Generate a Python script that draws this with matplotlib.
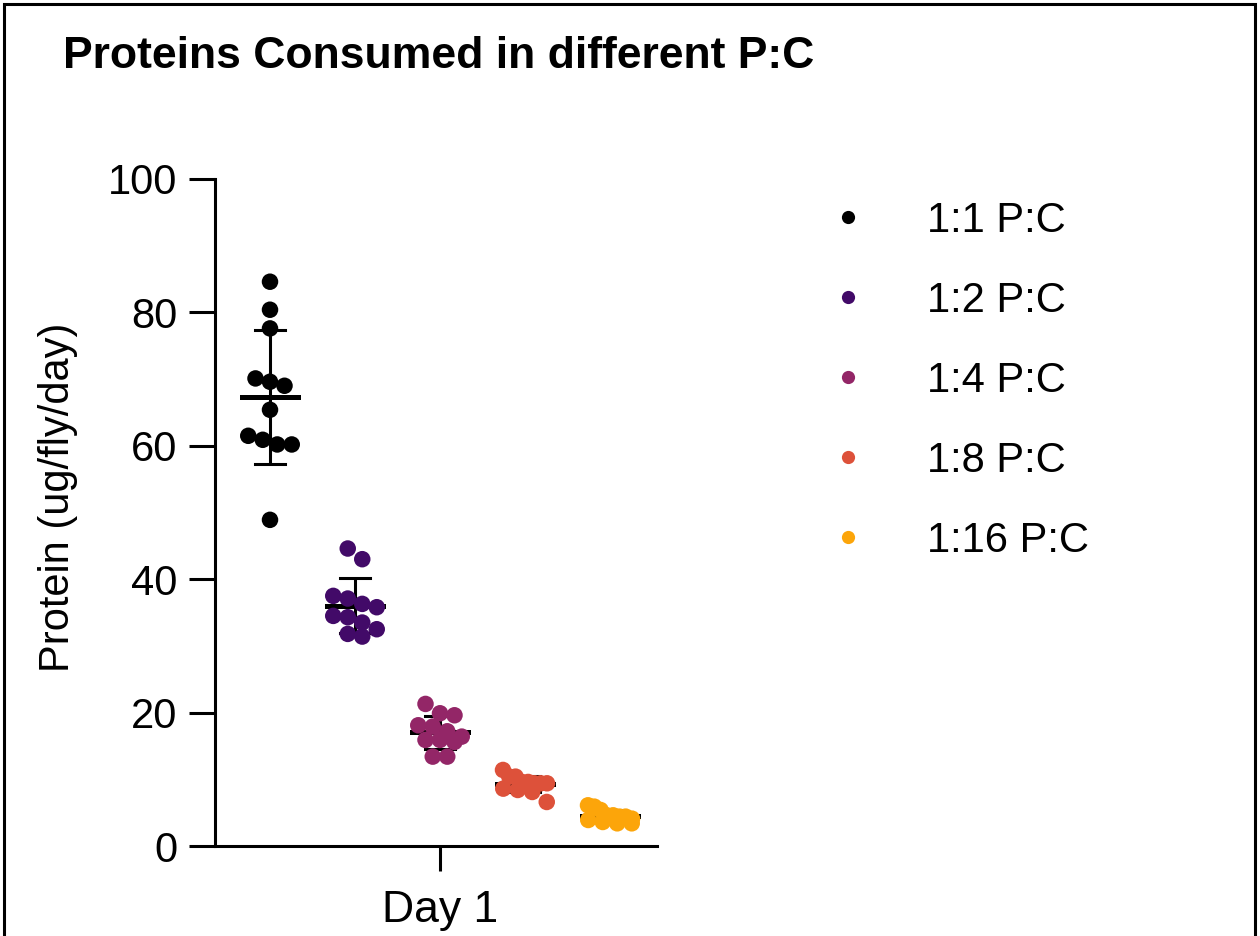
import numpy as np
import matplotlib
matplotlib.use('Agg')
import matplotlib.pyplot as plt
from matplotlib.lines import Line2D
from matplotlib.patches import Rectangle

plt.rcParams['font.family'] = ['Liberation Sans', 'DejaVu Sans']

# ---------------- data ----------------
title = 'Proteins Consumed in different P:C'
ylabel = 'Protein (ug/fly/day)'
xtick_label = 'Day 1'
groups = ['1:1 P:C', '1:2 P:C', '1:4 P:C', '1:8 P:C', '1:16 P:C']
colors = ['#000000', '#420a68', '#932667', '#dd513a', '#fca50a']

vals_1_1 = [84.6, 80.4, 77.6, 69.0, 69.6, 70.1, 65.4, 61.5, 60.2, 60.2, 60.9, 48.9]
vals_1_2 = [43.0, 44.6, 35.8, 36.3, 37.5, 37.1, 34.3, 34.5, 33.5, 31.4, 31.8, 32.5]
vals_1_4 = [21.3, 19.6, 19.9, 17.2, 18.1, 17.9, 15.9, 15.6, 16.4, 15.9, 13.4, 13.4]
vals_1_8 = [11.4, 9.4, 9.6, 8.6, 10.4, 10.4, 9.6, 9.4, 8.4, 8.1, 6.6, 9.4]
vals_1_16 = [4.6, 5.9, 6.1, 3.6, 3.4, 4.4, 3.9, 5.4, 4.6, 4.1, 3.4, 4.4]
all_vals = [vals_1_1, vals_1_2, vals_1_4, vals_1_8, vals_1_16]

# ---------------- figure ----------------
W, H = 1260, 936
fig = plt.figure(figsize=(W / 100, H / 100), dpi=100)
ax_left, ax_right, ax_top, ax_bot = 215, 657, 179, 846
ax = fig.add_axes([ax_left / W, 1 - ax_bot / H, (ax_right - ax_left) / W, (ax_bot - ax_top) / H])

positions = np.arange(1, len(groups) + 1)
center = positions[len(positions) // 2]
px_per_unit = 85.0
ax.set_xlim(center - (440 - ax_left) / px_per_unit, center + (ax_right - 440) / px_per_unit)
ax.set_ylim(0, 100)

fig.canvas.draw()
d = 14.5      # point spacing in pixels
maxw = 22.0   # max half-width of a row (pixel, point centres)


def row_offsets(values):
    """Prism-like scatter: points of similar value share a centred row."""
    values = np.asarray(values)
    ys = ax.transData.transform(np.column_stack([np.zeros(len(values)), values]))[:, 1]
    order = np.argsort(-values, kind='stable')
    rows, cur = [], []
    for i in order:
        if cur and ys[cur[0]] - ys[i] >= d:
            rows.append(cur)
            cur = []
        cur.append(i)
    if cur:
        rows.append(cur)
    offs = np.zeros(len(values))
    for r in rows:
        n = len(r)
        sp = d if n == 1 else min(d, 2 * maxw / (n - 1))
        for k, i in enumerate(r):
            offs[i] = (k - (n - 1) / 2) * sp
    return offs / px_per_unit


cap_half = 15 / px_per_unit
mean_half = 28 / px_per_unit
dot_px = 16.5
for pos, vals, col in zip(positions, all_vals, colors):
    v = np.array(vals)
    offs = row_offsets(v)
    ax.scatter(pos + offs, v, s=(dot_px * 0.72) ** 2, color=col, edgecolors='none', zorder=3)
    m = v.mean()
    sd = v.std(ddof=1)
    ax.plot([pos, pos], [m - sd, m + sd], color='black', lw=2.2, zorder=2, solid_capstyle='butt')
    ax.plot([pos - cap_half, pos + cap_half], [m + sd, m + sd], color='black', lw=2.2, zorder=2)
    ax.plot([pos - cap_half, pos + cap_half], [m - sd, m - sd], color='black', lw=2.2, zorder=2)
    ax.plot([pos - mean_half, pos + mean_half], [m, m], color='black', lw=3.6, zorder=2)

for s in ['top', 'right']:
    ax.spines[s].set_visible(False)
for s in ['left', 'bottom']:
    ax.spines[s].set_linewidth(2.2)
ax.set_xticks([center])
ax.set_xticklabels([xtick_label])
ax.set_yticks([0, 20, 40, 60, 80, 100])
ax.tick_params(axis='y', length=19, width=2.2, labelsize=30, pad=8)
ax.tick_params(axis='x', length=18, width=2.2, labelsize=32, pad=14)

fig.text(58 / W, 1 - 497 / H, ylabel, rotation=90, ha='center', va='center', fontsize=30)
fig.text(63 / W, 1 - 57 / H, title, ha='left', va='center', fontsize=32, fontweight='bold')

handles = [Line2D([], [], marker='o', linestyle='none', color=c, markersize=9.5, markeredgewidth=0)
           for c in colors]
fs = 30
em = fs * 100 / 72
leg = fig.legend(handles, groups, loc='upper left',
                 bbox_to_anchor=((848 - em / 2) / W, 1 - 201 / H),
                 frameon=False, fontsize=fs, handlelength=1.0, handletextpad=1.4,
                 labelspacing=0.96, borderpad=0, borderaxespad=0)

# outer frame
fig.patches.append(Rectangle((4 / W, -0.05), (1255 - 4) / W, 1.05 - 4 / H,
                             transform=fig.transFigure, fill=False, edgecolor='black',
                             linewidth=2.2))

fig.savefig('out.png', dpi=100)
